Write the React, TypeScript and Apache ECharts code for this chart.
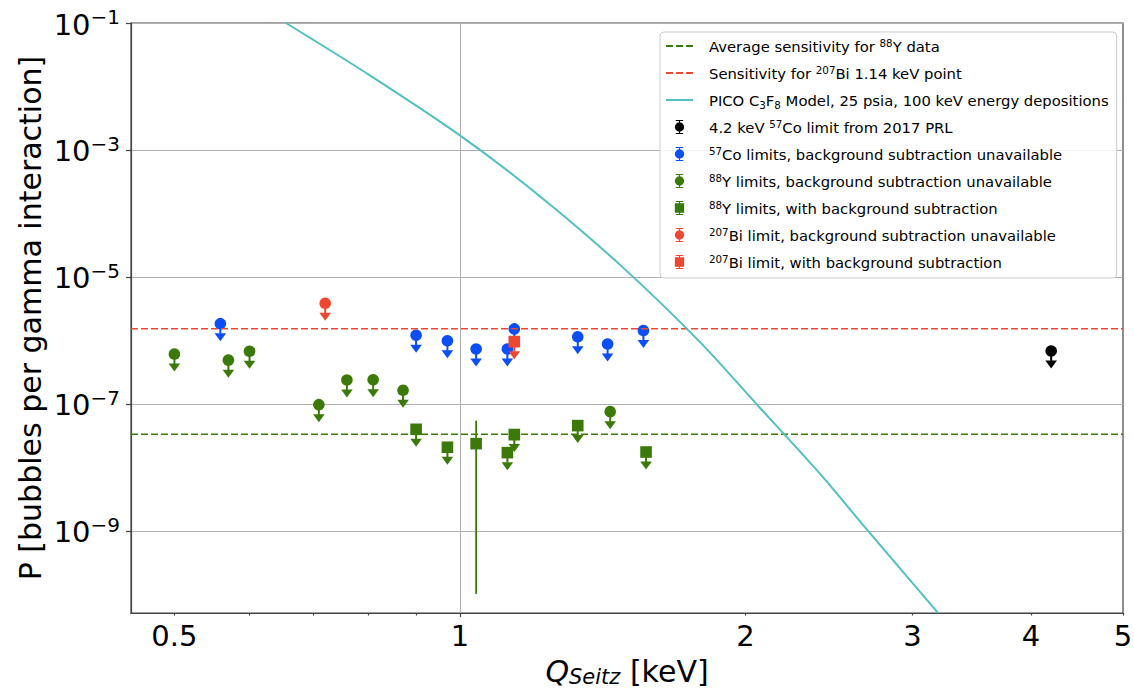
import React, { useEffect, useRef } from 'react';
import * as echarts from 'echarts';

const FONT = "'DejaVu Sans', 'Liberation Sans', sans-serif";

// ---- axes ----
const X_RANGE = [0.45, 5];
const Y_RANGE = [5.1e-11, 0.1];
const X_MAJOR_TICKS = [1];
const X_MINOR_TICKS = [0.5, 0.6, 0.7, 0.8, 0.9, 2, 3, 4, 5];
const X_TICK_LABELS = [0.5, 1, 2, 3, 4, 5];
const Y_TICKS = [1e-9, 1e-7, 1e-5, 1e-3, 1e-1];

// ---- horizontal sensitivity lines ----
const SENS_88Y = 3.33e-8;
const SENS_207BI = 1.53e-6;

// ---- PICO C3F8 model curve ----
const MODEL_X = [0.6555, 0.8036, 1.0, 1.214, 1.475, 1.791, 2.072, 2.397, 2.693, 3.191];
const MODEL_Y = [1e-1, 1.5e-2, 1.7e-3, 1.87e-4, 1.55e-5, 9.4e-7, 8.65e-8, 7.9e-9, 1.0e-9, 5.12e-11];

// ---- data points (upper limits) ----
const PRL_X = [4.2];
const PRL_Y = [6.84e-7];

const CO57_X = [0.559, 0.899, 0.97, 1.04, 1.122, 1.141, 1.331, 1.431, 1.561];
const CO57_Y = [1.84e-6, 1.21e-6, 9.9e-7, 7.35e-7, 7.35e-7, 1.52e-6, 1.14e-6, 8.8e-7, 1.43e-6];

const Y88_X = [0.5, 0.57, 0.6, 0.71, 0.76, 0.81, 0.871, 1.44];
const Y88_Y = [6.1e-7, 4.9e-7, 6.76e-7, 9.75e-8, 2.39e-7, 2.41e-7, 1.64e-7, 7.57e-8];

const Y88S_X = [0.899, 0.97, 1.122, 1.141, 1.331, 1.571];
const Y88S_Y = [3.99e-8, 2.08e-8, 1.71e-8, 3.29e-8, 4.56e-8, 1.75e-8];

// measured (non-limit) 88Y point with background subtraction
const Y88S_MEAS_X = [1.04];
const Y88S_MEAS_Y = [2.37e-8];
const Y88S_MEAS_LO = [1.02e-10];
const Y88S_MEAS_HI = [5.46e-8];

const BI_X = [0.721];
const BI_Y = [3.85e-6];

const BIS_X = [1.141];
const BIS_Y = [9.57e-7];

// arrow length of upper-limit markers, as a ratio of the value
const ARROW_FACTOR = 0.53;

const C_GREEN = '#3b7a08';
const C_RED = '#ef4631';
const C_BLUE = '#0b4ef6';
const C_CYAN = '#52bfc0';
const C_BLACK = '#000000';

const N_SENS88 = 'Average sensitivity for 88Y data';
const N_SENSBI = 'Sensitivity for 207Bi 1.14 keV point';
const N_MODEL = 'PICO C3F8 Model, 25 psia, 100 keV energy depositions';
const N_PRL = '4.2 keV 57Co limit from 2017 PRL';
const N_CO57 = '57Co limits, background subtraction unavailable';
const N_Y88 = '88Y limits, background subtraction unavailable';
const N_Y88S = '88Y limits, with background subtraction';
const N_BI = '207Bi limit, background subtraction unavailable';
const N_BIS = '207Bi limit, with background subtraction';

const LEGEND_RICH: Record<string, string> = {
  [N_SENS88]: 'Average sensitivity for {sup|88}Y data',
  [N_SENSBI]: 'Sensitivity for {sup|207}Bi 1.14 keV point',
  [N_MODEL]: 'PICO C{sub|3}F{sub|8} Model, 25 psia, 100 keV energy depositions',
  [N_PRL]: '4.2 keV {sup|57}Co limit from 2017 PRL',
  [N_CO57]: '{sup|57}Co limits, background subtraction unavailable',
  [N_Y88]: '{sup|88}Y limits, background subtraction unavailable',
  [N_Y88S]: '{sup|88}Y limits, with background subtraction',
  [N_BI]: '{sup|207}Bi limit, background subtraction unavailable',
  [N_BIS]: '{sup|207}Bi limit, with background subtraction',
};

const ICON_CIRCLE =
  'path://M1,0H9V1.2H1Z M1,13.8H9V15H1Z M4.4,0H5.6V15H4.4Z M0,7.5A5,5,0,1,1,10,7.5A5,5,0,1,1,0,7.5Z';
const ICON_SQUARE =
  'path://M1,0H9V1.2H1Z M1,13.8H9V15H1Z M4.4,0H5.6V15H4.4Z M0,2.5H10V12.5H0Z';

function limitRows(xs: number[], ys: number[]) {
  return xs.map((x, i) => [x, ys[i], ys[i] * ARROW_FACTOR, ys[i], 1]);
}
function measuredRows(xs: number[], ys: number[], lo: number[], hi: number[]) {
  return xs.map((x, i) => [x, ys[i], lo[i], hi[i], 0]);
}

function makeRender(shape: 'circle' | 'square', color: string) {
  return (_params: any, api: any) => {
    const x = api.value(0);
    const y = api.value(1);
    const lo = api.value(2);
    const hi = api.value(3);
    const lim = api.value(4);
    const c = api.coord([x, y]);
    const l = api.coord([x, lo]);
    const h = api.coord([x, hi]);
    const ch: any[] = [];
    if (lim) {
      const tip = l[1];
      const base = tip - 8;
      ch.push({
        type: 'line',
        shape: { x1: c[0], y1: c[1], x2: c[0], y2: base + 0.5 },
        style: { stroke: color, lineWidth: 2 },
      });
      ch.push({
        type: 'polygon',
        shape: { points: [[c[0] - 5.8, base], [c[0] + 5.8, base], [c[0], tip]] },
        style: { fill: color },
      });
    } else {
      ch.push({
        type: 'line',
        shape: { x1: c[0], y1: h[1], x2: c[0], y2: l[1] },
        style: { stroke: color, lineWidth: 1.8 },
      });
    }
    if (shape === 'circle') {
      ch.push({ type: 'circle', shape: { cx: c[0], cy: c[1], r: 5.8 }, style: { fill: color } });
    } else {
      ch.push({
        type: 'rect',
        shape: { x: c[0] - 5.8, y: c[1] - 5.8, width: 11.6, height: 11.6 },
        style: { fill: color },
      });
    }
    return { type: 'group', children: ch };
  };
}

function customSeries(name: string, data: any[], shape: 'circle' | 'square', color: string) {
  return {
    type: 'custom',
    name,
    coordinateSystem: 'cartesian2d',
    xAxisIndex: 0,
    yAxisIndex: 0,
    encode: { x: 0, y: 1 },
    itemStyle: { color },
    data,
    renderItem: makeRender(shape, color),
    silent: true,
  };
}

const HIDDEN_SYMBOL = { color: 'rgba(0,0,0,0)', opacity: 0, borderWidth: 0 };

export default function App() {
  const ref = useRef<HTMLDivElement>(null);

  useEffect(() => {
    if (!ref.current) return;
    const chart = echarts.init(ref.current, undefined, { renderer: 'svg' });

    const axisLineStyle = { color: '#444444', width: 1.2 };

    const option: any = {
      animation: false,
      textStyle: { fontFamily: FONT },
      grid: {
        left: 131,
        top: 23,
        right: 11,
        bottom: 78,
        show: true,
        borderColor: '#444444',
        borderWidth: 1.2,
        backgroundColor: '#ffffff',
        containLabel: false,
        outerBoundsMode: 'none',
      },
      legend: {
        orient: 'vertical',
        left: 660,
        top: 32,
        itemWidth: 27,
        itemHeight: 14,
        itemGap: 7,
        padding: [4, 8, 6, 5],
        backgroundColor: 'rgba(255,255,255,0.85)',
        borderColor: '#cccccc',
        borderWidth: 1,
        borderRadius: 4,
        selectedMode: false,
        formatter: (name: string) => LEGEND_RICH[name] || name,
        textStyle: {
          fontFamily: FONT,
          fontSize: 14.8,
          color: '#000000',
          lineHeight: 20,
          padding: [0, 0, 0, 11],
          rich: {
            sup: {
              fontFamily: FONT,
              fontSize: 10.3,
              color: '#000000',
              verticalAlign: 'bottom',
              padding: [0, 0, 8, 0],
            },
            sub: {
              fontFamily: FONT,
              fontSize: 10.3,
              color: '#000000',
              verticalAlign: 'top',
              padding: [10, 0, 0, 0],
            },
          },
        },
        data: [
          { name: N_SENS88, itemStyle: HIDDEN_SYMBOL },
          { name: N_SENSBI, itemStyle: HIDDEN_SYMBOL },
          { name: N_MODEL, itemStyle: HIDDEN_SYMBOL },
          { name: N_PRL, icon: ICON_CIRCLE },
          { name: N_CO57, icon: ICON_CIRCLE },
          { name: N_Y88, icon: ICON_CIRCLE },
          { name: N_Y88S, icon: ICON_SQUARE },
          { name: N_BI, icon: ICON_CIRCLE },
          { name: N_BIS, icon: ICON_SQUARE },
        ],
      },
      xAxis: [
        {
          type: 'log',
          logBase: 10,
          min: X_RANGE[0],
          max: X_RANGE[1],
          position: 'bottom',
          axisLine: { show: true, lineStyle: axisLineStyle },
          axisTick: { show: true, customValues: X_MAJOR_TICKS, length: 4, lineStyle: axisLineStyle },
          axisLabel: { show: false },
          splitLine: { show: true, lineStyle: { color: '#b0b0b0', width: 1 } },
          minorTick: { show: false },
          minorSplitLine: { show: false },
        },
        {
          type: 'log',
          logBase: 10,
          min: X_RANGE[0],
          max: X_RANGE[1],
          position: 'bottom',
          offset: 0,
          axisLine: { show: true, lineStyle: axisLineStyle },
          axisTick: { show: true, customValues: X_MINOR_TICKS, length: 2.5, lineStyle: axisLineStyle },
          axisLabel: {
            customValues: X_TICK_LABELS,
            formatter: (v: number) => String(+Number(v).toPrecision(3)),
            fontFamily: FONT,
            fontSize: 29,
            color: '#000000',
            margin: 8,
          },
          splitLine: { show: false },
          minorTick: { show: false },
          name: '{q|Q}{sub|Seitz}{n| [keV]}',
          nameLocation: 'middle',
          nameGap: 43,
          nameMoveOverlap: false,
          nameTextStyle: {
            fontFamily: FONT,
            color: '#000000',
            rich: {
              q: { fontFamily: FONT, fontSize: 30, fontStyle: 'italic', color: '#000', verticalAlign: 'top' },
              sub: {
                fontFamily: FONT,
                fontSize: 21,
                fontStyle: 'italic',
                color: '#000',
                verticalAlign: 'top',
                padding: [10, 0, 0, 0],
              },
              n: { fontFamily: FONT, fontSize: 30, color: '#000', verticalAlign: 'top' },
            },
          },
        },
      ],
      yAxis: [
        {
          type: 'log',
          logBase: 10,
          min: Y_RANGE[0],
          max: Y_RANGE[1],
          axisLine: { show: true, lineStyle: axisLineStyle },
          axisTick: { show: true, customValues: Y_TICKS, length: 5, lineStyle: axisLineStyle },
          axisLabel: {
            customValues: Y_TICKS,
            margin: 11,
            formatter: (v: number) => {
              const e = Math.round(Math.log10(v));
              const s = e < 0 ? '\u2212' + Math.abs(e) : String(e);
              return '{b|10}{s|' + s + '}';
            },
            rich: {
              b: { fontFamily: FONT, fontSize: 29, color: '#000', verticalAlign: 'bottom' },
              s: { fontFamily: FONT, fontSize: 20, color: '#000', verticalAlign: 'bottom', padding: [0, 0, 12, 0] },
            },
          },
          splitLine: { show: true, lineStyle: { color: '#b0b0b0', width: 1 } },
          minorTick: { show: false },
          minorSplitLine: { show: false },
          name: 'P [bubbles per gamma interaction]',
          nameLocation: 'middle',
          nameGap: 86,
          nameRotate: 90,
          nameMoveOverlap: false,
          nameTextStyle: { fontFamily: FONT, fontSize: 30, color: '#000000' },
        },
      ],
      series: [
        {
          type: 'line',
          name: N_SENS88,
          data: [[X_RANGE[0], SENS_88Y], [X_RANGE[1], SENS_88Y]],
          symbol: 'none',
          lineStyle: { color: C_GREEN, width: 1.6, type: [7, 3] },
          itemStyle: { color: C_GREEN },
          silent: true,
        },
        {
          type: 'line',
          name: N_SENSBI,
          data: [[X_RANGE[0], SENS_207BI], [X_RANGE[1], SENS_207BI]],
          symbol: 'none',
          lineStyle: { color: C_RED, width: 1.6, type: [7, 3] },
          itemStyle: { color: C_RED },
          silent: true,
        },
        {
          type: 'line',
          name: N_MODEL,
          data: MODEL_X.map((x, i) => [x, MODEL_Y[i]]),
          symbol: 'none',
          smooth: 0.25,
          lineStyle: { color: C_CYAN, width: 2 },
          itemStyle: { color: C_CYAN },
          silent: true,
        },
        customSeries(N_PRL, limitRows(PRL_X, PRL_Y), 'circle', C_BLACK),
        customSeries(N_CO57, limitRows(CO57_X, CO57_Y), 'circle', C_BLUE),
        customSeries(N_Y88, limitRows(Y88_X, Y88_Y), 'circle', C_GREEN),
        customSeries(
          N_Y88S,
          [
            ...limitRows(Y88S_X, Y88S_Y),
            ...measuredRows(Y88S_MEAS_X, Y88S_MEAS_Y, Y88S_MEAS_LO, Y88S_MEAS_HI),
          ],
          'square',
          C_GREEN
        ),
        customSeries(N_BI, limitRows(BI_X, BI_Y), 'circle', C_RED),
        customSeries(N_BIS, limitRows(BIS_X, BIS_Y), 'square', C_RED),
      ],
    };

    chart.setOption(option);
    return () => {
      chart.dispose();
    };
  }, []);

  return (
    <div
      ref={ref}
      style={{ position: 'fixed', left: 0, top: 0, width: 1134, height: 691, background: '#ffffff' }}
    />
  );
}
